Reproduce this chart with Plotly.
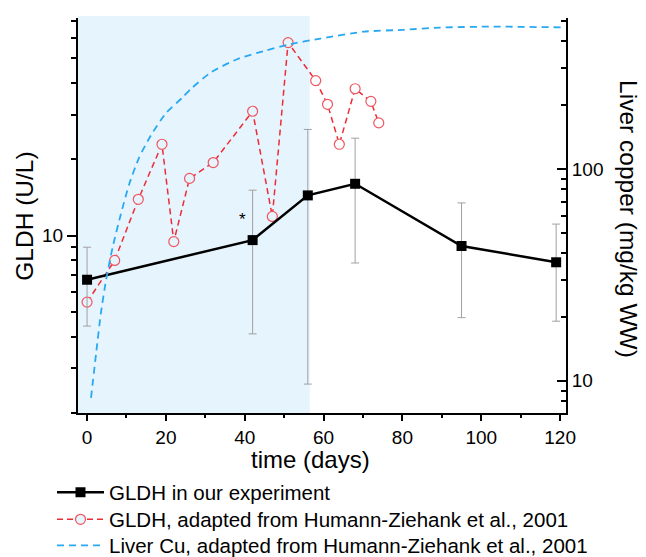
import math
import plotly.graph_objects as go

# ---------------- data ----------------
days_exp = [0, 42, 56, 68, 95, 119]
gldh_exp = [6.7, 9.6, 14.4, 16.0, 9.1, 7.85]
gldh_exp_sd = [2.3, 5.5, 11.8, 8.2, 4.35, 3.25]

days_hz = [0, 7, 13, 19, 22, 26, 32, 42, 47, 51, 58, 61, 64, 68, 72, 74]
gldh_hz = [5.47, 7.98, 13.9, 22.9, 9.47, 16.8, 19.4, 30.9, 11.9, 57.6,
           40.8, 32.9, 22.9, 37.9, 33.8, 27.8]

days_cu = [1, 2.3, 3.5, 4.8, 6.5, 8.6, 10.7, 13.2, 16.2, 20, 24.2, 26.3,
           31.4, 38.2, 44.9, 50.8, 59.2, 70.2, 80.3, 89.6, 103, 120.8]
liver_cu = [8.3, 13.5, 20.8, 29.8, 42.8, 61.4, 84.9, 113, 144, 183, 217, 238,
            285, 330, 360, 385, 412, 444, 453, 464, 469, 465]

shade_start, shade_end = -2.3, 56.5
x_range = [-2.3, 121.5]
y_left_range = [2.0, 72.0]
y_right_range = [7.05, 515.0]

x_ticks = [0, 20, 40, 60, 80, 100, 120]
y_left_ticks = [10]
y_left_minor = [2, 3, 4, 5, 6, 7, 8, 9, 20, 30, 40, 50, 60, 70]
y_right_ticks = [10, 100]
y_right_minor = [8, 9, 20, 30, 40, 50, 60, 70, 80, 90, 200, 300, 400, 500]

names = ["GLDH in our experiment",
         "GLDH, adapted from Humann-Ziehank et al., 2001",
         "Liver Cu, adapted from Humann-Ziehank et al., 2001"]

FONT = "Liberation Sans, Arial, sans-serif"
SHADE = "#e6f4fd"
RED = "#ee2c36"
BLUE = "#29a8f2"
W, H = 646, 557
ML, MR, MT, MB = 78, 80, 18, 144

fig = go.Figure()

fig.add_trace(go.Scatter(
    x=days_cu, y=liver_cu, yaxis="y2", mode="lines", name=names[2],
    line=dict(color=BLUE, width=1.8, dash="7px,5px", shape="spline", smoothing=0.6),
    legend="legend3"))

fig.add_trace(go.Scatter(
    x=days_hz, y=gldh_hz, mode="lines+markers", name=names[1],
    line=dict(color=RED, width=1.5, dash="6px,4px"),
    marker=dict(symbol="circle", size=10,
                color=[SHADE if d < shade_end else "white" for d in days_hz],
                line=dict(color="#f05560", width=1.2)),
    legend="legend2"))

fig.add_trace(go.Scatter(
    x=days_exp, y=gldh_exp, mode="lines+markers", name=names[0],
    line=dict(color="black", width=2.5),
    marker=dict(symbol="square", size=10, color="black"),
    error_y=dict(type="data", array=gldh_exp_sd, visible=True,
                 color="#a0a0a0", thickness=1, width=4),
    legend="legend"))

fig.add_shape(type="rect", xref="x", yref="paper", x0=shade_start, x1=shade_end,
              y0=0, y1=1.005, fillcolor=SHADE, line=dict(width=0), layer="below")

axis_common = dict(showline=True, linecolor="black", linewidth=2, showgrid=False,
                   zeroline=False, tickcolor="black", automargin=False,
                   tickfont=dict(size=19, family=FONT))

plot_w = W - ML - MR


def legend_at(row_y_px):
    return dict(orientation="v", xref="paper", yref="container",
                x=(52 - ML) / plot_w, y=1 - row_y_px / H, xanchor="left", yanchor="middle",
                font=dict(size=20.5, family=FONT), bgcolor="rgba(0,0,0,0)",
                itemwidth=47, borderwidth=0)


fig.update_layout(
    width=W, height=H,
    margin=dict(l=ML, r=MR, t=MT, b=MB),
    paper_bgcolor="white", plot_bgcolor="white",
    font=dict(family=FONT, size=19, color="black"),
    xaxis=dict(range=x_range, tickvals=x_ticks, ticks="outside", ticklen=6, tickwidth=1.5,
               minor=dict(dtick=10, tick0=0, ticks="outside", ticklen=3, tickwidth=1.5,
                          tickcolor="black"),
               **axis_common),
    yaxis=dict(type="log", range=[math.log10(v) for v in y_left_range],
               tickvals=y_left_ticks, ticks="outside", ticklen=9, tickwidth=1.5,
               minor=dict(tickvals=y_left_minor, ticks="outside", ticklen=5, tickwidth=1.5,
                          tickcolor="black"),
               **axis_common),
    yaxis2=dict(type="log", overlaying="y", side="right",
                range=[math.log10(v) for v in y_right_range],
                tickvals=y_right_ticks, ticks="inside", ticklen=9, tickwidth=1.5,
                minor=dict(tickvals=y_right_minor, ticks="inside", ticklen=5, tickwidth=1.5,
                           tickcolor="black"),
                **axis_common),
    showlegend=True,
    legend=legend_at(492.5),
    legend2=legend_at(519.5),
    legend3=legend_at(545.5),
)

fig.add_annotation(text="time (days)", xref="paper", yref="paper", x=0.477, y=-0.118,
                   xanchor="center", yanchor="middle", showarrow=False,
                   font=dict(size=24, family=FONT))
fig.add_annotation(text="GLDH (U/L)", xref="paper", yref="paper", x=-0.109, y=0.499,
                   xanchor="center", yanchor="middle", textangle=-90, showarrow=False,
                   font=dict(size=24.5, family=FONT))
fig.add_annotation(text="Liver copper (mg/kg WW)", xref="paper", yref="paper", x=1.129, y=0.491,
                   xanchor="center", yanchor="middle", textangle=90, showarrow=False,
                   font=dict(size=24.5, family=FONT))
fig.add_annotation(text="*", x=39.4, y=math.log10(11.6), xref="x", yref="y",
                   showarrow=False, font=dict(size=17, family=FONT))

fig.write_html("out.html")
